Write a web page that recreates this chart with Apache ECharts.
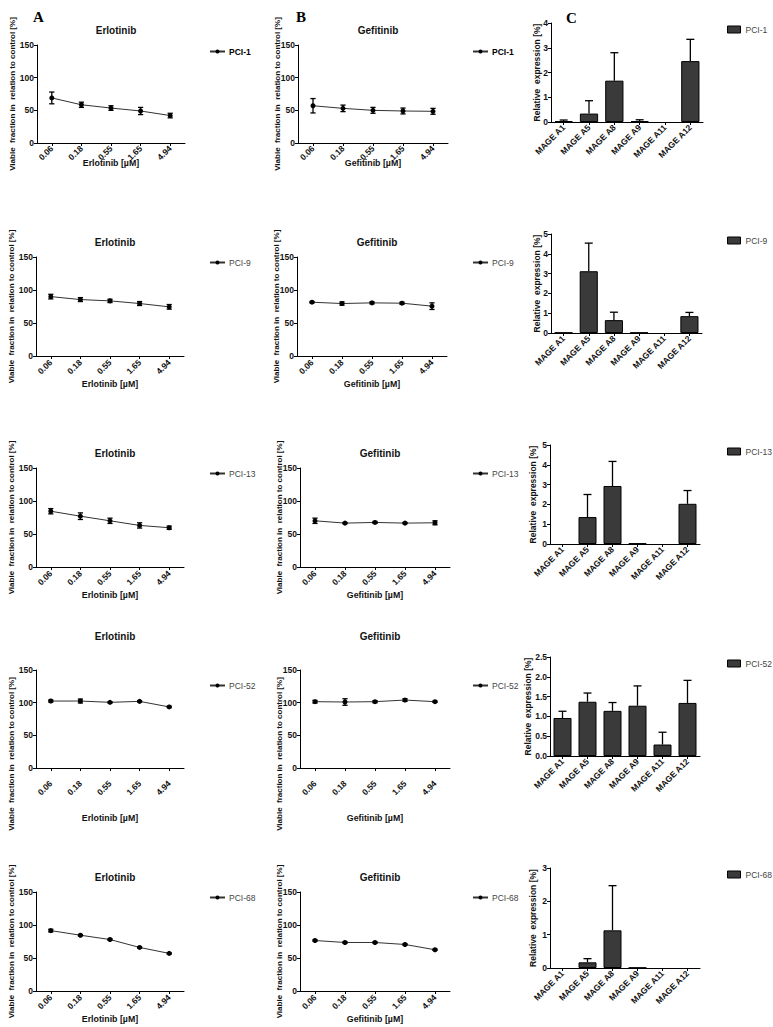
<!DOCTYPE html>
<html><head><meta charset="utf-8">
<script src="https://cdn.jsdelivr.net/npm/echarts@6/dist/echarts.min.js"></script>
<style>html,body{margin:0;padding:0;background:#fff}#c{width:773px;height:1027px}</style>
</head><body><div id="c"></div>
<script>
// ---------- DATA ----------
const concentrations = ['0.06', '0.18', '0.55', '1.65', '4.94'];
const genes = ['MAGE A1', 'MAGE A5', 'MAGE A8', 'MAGE A9', 'MAGE A11', 'MAGE A12'];
const cellLines = ['PCI-1', 'PCI-9', 'PCI-13', 'PCI-52', 'PCI-68'];

const erlPCI1Mean  = [69, 58.5, 53.5, 49, 42];
const erlPCI1Err   = [9, 4, 3.5, 5.5, 3.5];
const erlPCI9Mean  = [90, 85.5, 83.5, 79.5, 74.5];
const erlPCI9Err   = [3.5, 3, 2.5, 3, 3.5];
const erlPCI13Mean = [84.5, 77, 70, 63, 59.5];
const erlPCI13Err  = [4, 5, 4, 4, 2.5];
const erlPCI52Mean = [102.5, 102.5, 100.5, 102, 93.5];
const erlPCI52Err  = [1.5, 3, 1, 1, 1];
const erlPCI68Mean = [91.5, 84.5, 78, 66, 57];
const erlPCI68Err  = [2, 1, 1, 1, 1];

const gefPCI1Mean  = [57, 53, 50, 49, 48.5];
const gefPCI1Err   = [11, 5, 4.5, 4.5, 4.5];
const gefPCI9Mean  = [81.5, 79.5, 80.5, 80, 75.5];
const gefPCI9Err   = [1, 2.5, 1.5, 1.5, 5];
const gefPCI13Mean = [70, 66.5, 67.5, 66.5, 67];
const gefPCI13Err  = [4, 1, 1.5, 1, 3];
const gefPCI52Mean = [101.5, 101, 101.5, 104, 101.5];
const gefPCI52Err  = [2, 5, 1.5, 2, 1];
const gefPCI68Mean = [76.5, 73.5, 73.5, 70.5, 62.5];
const gefPCI68Err  = [1, 1, 1, 1, 1];

const magePCI1Mean  = [0.04, 0.34, 1.67, 0.04, 0, 2.46];
const magePCI1Err   = [0.04, 0.52, 1.13, 0.05, 0, 0.88];
const magePCI9Mean  = [0.02, 3.12, 0.65, 0.02, 0, 0.85];
const magePCI9Err   = [0, 1.42, 0.4, 0, 0, 0.19];
const magePCI13Mean = [0, 1.36, 2.93, 0.03, 0, 2.03];
const magePCI13Err  = [0, 1.14, 1.24, 0, 0, 0.67];
const magePCI52Mean = [0.96, 1.37, 1.14, 1.27, 0.29, 1.34];
const magePCI52Err  = [0.17, 0.22, 0.21, 0.5, 0.31, 0.57];
const magePCI68Mean = [0, 0.17, 1.13, 0.01, 0, 0];
const magePCI68Err  = [0, 0.11, 1.34, 0, 0, 0];

const viabilityTicks = [0, 150, 50];           // min, max, interval
const expressionMax = [4, 5, 5, 2.5, 3];
const expressionInterval = [1, 1, 1, 0.5, 1];

const erlMeans = [erlPCI1Mean, erlPCI9Mean, erlPCI13Mean, erlPCI52Mean, erlPCI68Mean];
const erlErrs  = [erlPCI1Err, erlPCI9Err, erlPCI13Err, erlPCI52Err, erlPCI68Err];
const gefMeans = [gefPCI1Mean, gefPCI9Mean, gefPCI13Mean, gefPCI52Mean, gefPCI68Mean];
const gefErrs  = [gefPCI1Err, gefPCI9Err, gefPCI13Err, gefPCI52Err, gefPCI68Err];
const mageMeans = [magePCI1Mean, magePCI9Mean, magePCI13Mean, magePCI52Mean, magePCI68Mean];
const mageErrs  = [magePCI1Err, magePCI9Err, magePCI13Err, magePCI52Err, magePCI68Err];

// ---------- LAYOUT ----------
const lineTop = [45, 257, 468, 670, 892];
const lineBottom = [143, 356, 567, 768, 991];
const barTop = [23, 234, 445, 657, 868];
const barBottom = [122, 333, 544, 756, 968];
const aLeft = [37, 36, 36, 36, 36];
const bLeft = [298, 297, 300, 300, 300];
const cLeft = [551, 551, 550, 550, 550];
const cRight = [703, 702, 700, 700, 700];
const titleY = [20, 232, 443, 626, 867];
const cNameGap = [10, 10, 13, 18, 13];
const xNameGap = [15, 23, 23, 45, 23];
const xLabelMargin = [4, 5, 5, 14, 5];
const lineLegendY = [49, 260, 471, 683, 895];
const yNameShift = [0, 0, 0, 70, 0];

const FONT = 'Arial, "Liberation Sans", Helvetica, sans-serif';
const BLACK = '#000';

const chart = echarts.init(document.getElementById('c'), null, {renderer: 'svg'});

const grids = [], xAxes = [], yAxes = [], series = [], titles = [], legends = [];

function lineErrRender(params, api) {
  const x = api.value(0), lo = api.value(1), hi = api.value(2);
  const a = api.coord([x, hi]), b = api.coord([x, lo]);
  const c = 2.6, st = {stroke: BLACK, lineWidth: 1.3};
  return {type: 'group', children: [
    {type: 'line', shape: {x1: a[0], y1: a[1], x2: b[0], y2: b[1]}, style: st},
    {type: 'line', shape: {x1: a[0] - c, y1: a[1], x2: a[0] + c, y2: a[1]}, style: st},
    {type: 'line', shape: {x1: b[0] - c, y1: b[1], x2: b[0] + c, y2: b[1]}, style: st}
  ]};
}
function barErrRender(params, api) {
  const x = api.value(0), v = api.value(1), hi = api.value(2);
  if (!(hi > v)) return null;
  const a = api.coord([x, hi]), b = api.coord([x, v]);
  const c = 4, st = {stroke: BLACK, lineWidth: 1.3};
  return {type: 'group', children: [
    {type: 'line', shape: {x1: a[0], y1: a[1], x2: b[0], y2: b[1]}, style: st},
    {type: 'line', shape: {x1: a[0] - c, y1: a[1], x2: a[0] + c, y2: a[1]}, style: st}
  ]};
}

const axisLineStyle = {show: true, lineStyle: {color: BLACK, width: 1}};
const tickStyle = {show: true, length: 3, lineStyle: {color: BLACK, width: 1}};
const labelStyle = {fontFamily: FONT, fontSize: 8.5, fontWeight: 'bold', color: '#111'};

function addLinePanel(r, col, drug, means, errs) {
  const left = col === 0 ? aLeft[r] : bLeft[r];
  const width = col === 0 ? 148 : 150;
  const gi = grids.length;
  grids.push({left: left, top: lineTop[r], width: width, height: lineBottom[r] - lineTop[r], containLabel: false});
  xAxes.push({
    type: 'category', gridIndex: gi, data: concentrations, boundaryGap: true,
    axisLine: axisLineStyle, axisTick: Object.assign({alignWithLabel: true}, tickStyle),
    axisLabel: Object.assign({rotate: 45, margin: xLabelMargin[r], interval: 0}, labelStyle),
    name: drug + ' [µM]', nameLocation: 'middle', nameGap: xNameGap[r], nameMoveOverlap: false,
    nameTextStyle: {fontFamily: FONT, fontSize: 8.8, fontWeight: 'bold', color: '#111'}
  });
  yAxes.push({
    type: 'value', gridIndex: gi, min: viabilityTicks[0], max: viabilityTicks[1], interval: viabilityTicks[2],
    axisLine: axisLineStyle, axisTick: tickStyle, splitLine: {show: false},
    axisLabel: Object.assign({margin: 3}, labelStyle),
    name: 'Viable  fraction in  relation to control [%]', nameLocation: 'middle',
    nameGap: col === 0 ? 21 : 17, nameMoveOverlap: false,
    nameTextStyle: {fontFamily: FONT, fontSize: 8, fontWeight: 'bold', color: '#111',
      padding: [0, yNameShift[r], 0, 0]}
  });
  series.push({
    type: 'line', name: cellLines[r], xAxisIndex: gi, yAxisIndex: gi, data: means,
    symbol: 'circle', symbolSize: 5, itemStyle: {color: BLACK},
    lineStyle: {color: '#333', width: 1}, animation: false, z: 3
  });
  series.push({
    type: 'custom', xAxisIndex: gi, yAxisIndex: gi, renderItem: lineErrRender,
    data: means.map((m, i) => [i, m - errs[i], m + errs[i]]),
    encode: {x: 0, y: [1, 2]}, animation: false, z: 4, silent: true
  });
  const cx = left + width / 2;
  titles.push({text: drug, left: cx, top: titleY[r], textAlign: 'center',
    textStyle: {fontFamily: FONT, fontSize: 10, fontWeight: 'bold', color: '#111'}});
  legends.push({
    data: [cellLines[r]], left: col === 0 ? 204 : 467, top: lineLegendY[r] - 7,
    itemWidth: 15, itemHeight: 5, itemGap: 2,
    textStyle: {fontFamily: FONT, fontSize: 8.5, fontWeight: r === 0 ? 'bold' : 'normal', color: r === 0 ? '#000' : '#444', padding: [0, 0, 0, -1]},
    selectedMode: false
  });
}

function addBarPanel(r) {
  const gi = grids.length;
  grids.push({left: cLeft[r], top: barTop[r], width: cRight[r] - cLeft[r], height: barBottom[r] - barTop[r]});
  xAxes.push({
    type: 'category', gridIndex: gi, data: genes, boundaryGap: true,
    axisLine: axisLineStyle, axisTick: Object.assign({alignWithLabel: true}, tickStyle),
    axisLabel: Object.assign({rotate: 45, margin: 4, interval: 0}, labelStyle)
  });
  yAxes.push({
    type: 'value', gridIndex: gi, min: 0, max: expressionMax[r], interval: expressionInterval[r],
    axisLine: axisLineStyle, axisTick: tickStyle, splitLine: {show: false},
    axisLabel: Object.assign({margin: 3, formatter: v => expressionInterval[r] < 1 ? v.toFixed(1) : String(v)}, labelStyle),
    name: 'Relative  expression [%]', nameLocation: 'middle', nameGap: cNameGap[r], nameMoveOverlap: false,
    nameTextStyle: {fontFamily: FONT, fontSize: 8.5, fontWeight: 'bold', color: '#111'}
  });
  series.push({
    type: 'bar', name: cellLines[r], xAxisIndex: gi, yAxisIndex: gi,
    data: mageMeans[r].map(v => v > 0 ? v : {value: v, itemStyle: {borderWidth: 0}}),
    barWidth: '72%', itemStyle: {color: '#3a3a3a', borderColor: '#000', borderWidth: 1},
    animation: false, z: 2
  });
  series.push({
    type: 'custom', xAxisIndex: gi, yAxisIndex: gi, renderItem: barErrRender,
    data: mageMeans[r].map((m, i) => [i, m, m + mageErrs[r][i]]),
    encode: {x: 0, y: [1, 2]}, animation: false, z: 4, silent: true
  });
  legends.push({
    data: [{name: cellLines[r], icon: 'rect', itemStyle: {color: '#3a3a3a', borderColor: '#000', borderWidth: 1}}],
    left: 722, top: barTop[r] - 3, itemWidth: 13, itemHeight: 7, selectedMode: false,
    textStyle: {fontFamily: FONT, fontSize: 8.5, color: '#444'}
  });
}

for (let r = 0; r < 5; r++) {
  addLinePanel(r, 0, 'Erlotinib', erlMeans[r], erlErrs[r]);
  addLinePanel(r, 1, 'Gefitinib', gefMeans[r], gefErrs[r]);
  addBarPanel(r);
}

const letterStyle = {fontFamily: '"Times New Roman", "Liberation Serif", serif', fontSize: 15, fontWeight: 'bold', color: '#000'};
titles.push({text: 'A', left: 28, top: 4, textStyle: letterStyle});
titles.push({text: 'B', left: 291, top: 4, textStyle: letterStyle});
titles.push({text: 'C', left: 561, top: 5, textStyle: letterStyle});

chart.setOption({
  animation: false,
  backgroundColor: '#fff',
  title: titles,
  legend: legends,
  grid: grids,
  xAxis: xAxes,
  yAxis: yAxes,
  series: series
});
</script>
</body></html>
